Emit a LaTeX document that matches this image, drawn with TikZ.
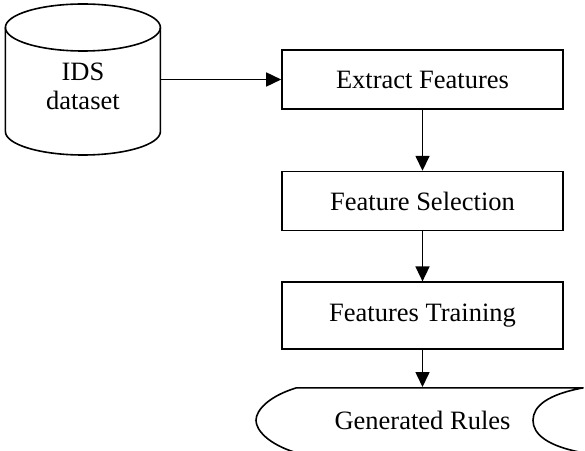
\documentclass[tikz,border=0pt]{standalone}
\usepackage{fontspec}
\setmainfont{Liberation Serif}
\usepackage{tikz}
\usetikzlibrary{positioning,calc,arrows.meta}

\begin{document}
\begin{tikzpicture}[x=1pt, y=1pt, line width=1.6pt,
    font=\fontsize{26.5}{29}\selectfont,
    box/.style={draw, minimum width=281pt, inner sep=0pt},
    arr/.style={-{Triangle[length=15pt, width=14pt]}}]
    \useasboundingbox (0,0) rectangle (585,450);

    \node[box, minimum height=59pt] (extract) at (422.5, 370.5) {Extract Features};
    \node[box, minimum height=59pt, below=61pt of extract] (select) {Feature Selection};
    \node[box, minimum height=67pt, below=50pt of select] (train) {Features Training};
    \node[minimum width=329pt, minimum height=65pt, inner sep=0pt, below=37pt of train] (rules) {Generated Rules};
    \node[minimum width=155pt, minimum height=151pt, inner sep=0pt, left=120pt of extract,
          label={[align=center, yshift=-7pt]center:IDS\\dataset}] (ids) {};

    % cylinder
    \draw ($(ids.center)+(0,52)$) ellipse [x radius=77.5, y radius=23.5];
    \draw ($(ids.center)+(-77.5,52)$) -- ++(0,-104)
            arc [start angle=180, end angle=360, x radius=77.5, y radius=23.5] -- ++(0,104);

    % stored data
    \draw ($(rules.center)+(-126,32.5)$) -- ($(rules.center)+(161,32.5)$)
            .. controls ($(rules.center)+(125,26)$) and ($(rules.center)+(110.5,14)$) .. ($(rules.center)+(110.5,0)$)
            .. controls ($(rules.center)+(110.5,-14)$) and ($(rules.center)+(125,-26)$) .. ($(rules.center)+(161,-32.5)$)
            -- ($(rules.center)+(-126,-32.5)$)
            .. controls ($(rules.center)+(-154,-24)$) and ($(rules.center)+(-166.5,-10)$) .. ($(rules.center)+(-166.5,0)$)
            .. controls ($(rules.center)+(-166.5,10)$) and ($(rules.center)+(-154,24)$) .. cycle;

    \draw[arr] (ids.east) -- (extract.west);
    \draw[arr] (extract) -- (select);
    \draw[arr] (select) -- (train);
    \draw[arr] (train) -- (rules);
\end{tikzpicture}
\end{document}
